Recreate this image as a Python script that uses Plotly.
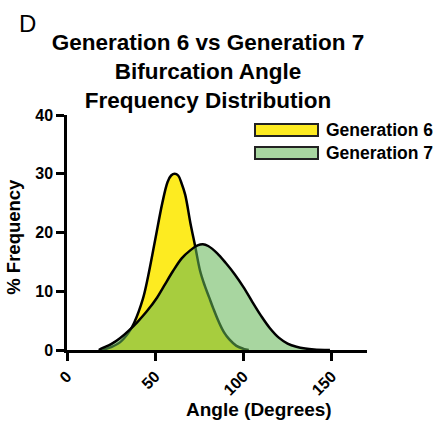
import plotly.graph_objects as go

# Data
gen6_angle = [20, 25, 30, 35, 38, 43, 46, 50, 54, 57, 59, 61, 63, 65, 67, 70, 72.6, 75.4, 78, 80.5, 83, 86, 89, 92, 96, 100, 103]
gen6_freq = [0, 0.5, 1.3, 3.0, 4.6, 8.7, 12.6, 18.8, 25.0, 28.6, 29.7, 30.0, 29.7, 28.3, 26.4, 21.5, 17.7, 13.5, 11.0, 9.0, 7.0, 4.8, 3.0, 1.8, 0.7, 0.2, 0]

gen7_angle = [18, 20, 25, 30, 35, 40, 45, 51, 55, 60, 65, 70, 74, 77, 80, 85, 90, 95, 100, 105, 110, 115, 120, 125, 130, 135, 140, 149]
gen7_freq = [0, 0.3, 1.0, 2.0, 3.3, 4.8, 6.5, 8.9, 10.9, 13.4, 15.6, 17.0, 17.8, 18.0, 17.7, 16.5, 14.8, 12.9, 10.7, 8.2, 5.8, 3.7, 2.1, 1.1, 0.55, 0.25, 0.1, 0]

x_ticks = [0, 50, 100, 150]
y_ticks = [0, 10, 20, 30, 40]
series_names = ["Generation 6", "Generation 7"]

W, H = 439, 424
L, R, T, B = 67, 72, 115, 73.5
FONT = "Liberation Sans, Arial, sans-serif"

YELLOW = "#FDEB21"
GREEN = "rgba(100,182,86,0.56)"

fig = go.Figure()
fig.add_trace(go.Scatter(x=gen6_angle, y=gen6_freq, mode="lines", name=series_names[0],
                         line=dict(color="black", width=2.5, shape="spline", smoothing=1.0),
                         fill="tozeroy", fillcolor=YELLOW, showlegend=False, hoverinfo="skip"))
fig.add_trace(go.Scatter(x=gen7_angle, y=gen7_freq, mode="lines", name=series_names[1],
                         line=dict(color="black", width=2.5, shape="spline", smoothing=1.0),
                         fill="tozeroy", fillcolor=GREEN, showlegend=False, hoverinfo="skip"))

tickfont = dict(family=FONT, size=16, color="black", weight="bold")
fig.update_xaxes(range=[0, 170], tickvals=x_ticks, ticktext=[str(v) for v in x_ticks],
                 showline=True, linecolor="black", linewidth=2.5, ticks="outside",
                 ticklen=8, tickwidth=2.5, tickcolor="black", tickangle=-45,
                 showgrid=False, zeroline=False, tickfont=tickfont)
fig.update_yaxes(range=[0, 40], tickvals=y_ticks, ticktext=[str(v) for v in y_ticks],
                 showline=True, linecolor="black", linewidth=2.5, ticks="outside",
                 ticklen=8, tickwidth=2.5, tickcolor="black",
                 showgrid=False, zeroline=False, tickfont=tickfont)

pw, ph = W - L - R, H - T - B


def px_x(px):
    return (px - L) / pw


def px_y(py):
    return (H - B - py) / ph


annotations = [
    dict(text="D", xref="paper", yref="paper", x=px_x(17), y=px_y(23),
         xanchor="left", yanchor="middle", showarrow=False,
         font=dict(family=FONT, size=24, color="black")),
    dict(text="<b>% Frequency</b>", xref="paper", yref="paper", x=px_x(14),
         y=px_y(237), textangle=-90, xanchor="center", yanchor="middle",
         showarrow=False, font=dict(family=FONT, size=18.5, color="black")),
    dict(text="<b>Angle (Degrees)</b>", xref="paper", yref="paper", x=px_x(259),
         y=px_y(410), xanchor="center", yanchor="middle",
         showarrow=False, font=dict(family=FONT, size=19, color="black")),
]

# legend drawn manually
shapes = []
leg_y = [130, 153]
leg_col = [YELLOW, "#A8D6A0"]
for i, name in enumerate(series_names):
    y0 = leg_y[i]
    shapes.append(dict(type="rect", xref="paper", yref="paper",
                       x0=px_x(255), x1=px_x(318),
                       y0=px_y(y0 + 6), y1=px_y(y0 - 6),
                       fillcolor=leg_col[i], line=dict(color="#222", width=2)))
    annotations.append(dict(text="<b>" + name + "</b>", xref="paper", yref="paper",
                            x=px_x(324), y=px_y(y0), xanchor="left", yanchor="middle",
                            showarrow=False, font=dict(family=FONT, size=17.5, color="black")))

fig.update_layout(
    width=W, height=H, autosize=False,
    margin=dict(l=L, r=R, t=T, b=B),
    paper_bgcolor="white", plot_bgcolor="white",
    title=dict(text="<b>Generation 6 vs Generation 7<br>Bifurcation Angle<br>Frequency Distribution</b>",
               x=208 / W, xref="container", xanchor="center",
               y=1 - 49.5 / H, yref="container", yanchor="top",
               font=dict(family=FONT, size=22.5, color="black")),
    annotations=annotations, shapes=shapes, showlegend=False,
)

fig.write_html("out.html", config={"displayModeBar": False},
               post_script="document.body.style.margin='0';document.body.style.overflow='hidden';")
